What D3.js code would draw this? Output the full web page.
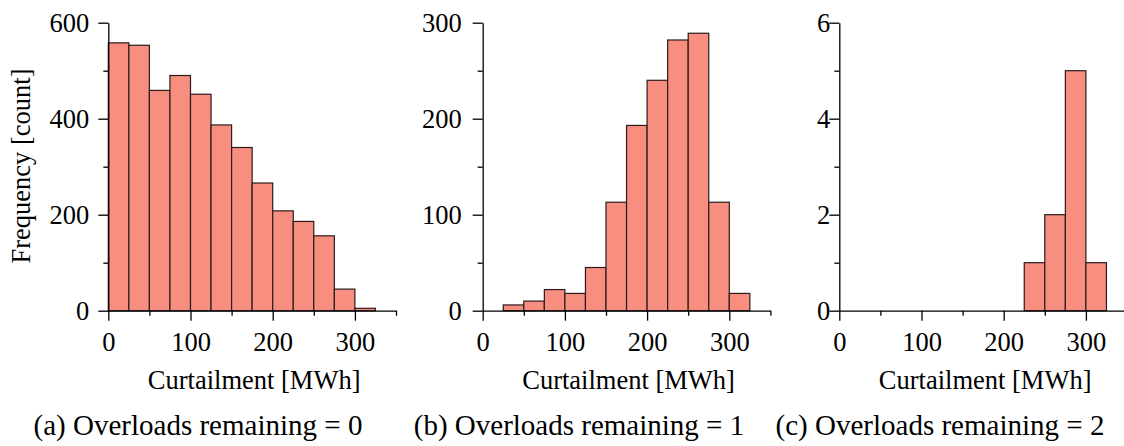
<!DOCTYPE html>
<html lang="en">
<head>
    <meta charset="UTF-8">
    <title>Curtailment histograms</title>
    <script src="https://d3js.org/d3.v7.min.js"></script>
    <style>
        body { margin: 0; background: #fff; }
        svg text { font-family: "Liberation Serif", "DejaVu Serif", serif; fill: #000; }
        .axis path, .axis line { stroke: #000; stroke-width: 1.3px; }
        .bar { fill: #f78e7f; stroke: #2a1c1c; stroke-width: 1.2px; }
    </style>
</head>
<body>
    <svg id="chart" width="1124" height="446"></svg>
    <script>
        // histogram bins (left edges, 25 MWh wide)
        const binEdges = [0, 25, 50, 75, 100, 125, 150, 175, 200, 225, 250, 275, 300];
        const binWidth = 25;

        // counts per bin
        const countsA = [558, 553, 459, 490, 451, 387, 340, 266, 208, 186, 156, 45, 5];
        const countsB = [0, 6, 10, 22, 18, 45, 113, 193, 240, 282, 289, 113, 18];
        const countsC = [0, 0, 0, 0, 0, 0, 0, 0, 0, 1, 2, 5, 1];

        const xTicks = [0, 50, 100, 150, 200, 250, 300, 350];
        const xLabels = [0, 100, 200, 300];
        const yTicksA = [0, 100, 200, 300, 400, 500, 600];
        const yTicksB = [0, 50, 100, 150, 200, 250, 300];
        const yTicksC = [0, 1, 2, 3, 4, 5, 6];

        const captions = ["(a) Overloads remaining = 0", "(b) Overloads remaining = 1", "(c) Overloads remaining = 2"];

        const panels = [
            { counts: countsA, yTicks: yTicksA, yLabelEvery: 200, yMax: 600, left: 108.3, labelGap: 19, capX: 198 },
            { counts: countsB, yTicks: yTicksB, yLabelEvery: 100, yMax: 300, left: 482.7, labelGap: 21, capX: 579 },
            { counts: countsC, yTicks: yTicksC, yLabelEvery: 2, yMax: 6, left: 839.3, labelGap: 9, capX: 940 }
        ];

        const svg = d3.select("#chart");
        const plotTop = 22.7, plotBottom = 310.7, plotW = 287.7;
        const fs = 26.5;

        panels.forEach((p, i) => {
            const x = d3.scaleLinear().domain([0, 350]).range([p.left, p.left + plotW]);
            const y = d3.scaleLinear().domain([0, p.yMax]).range([plotBottom, plotTop]);
            const g = svg.append("g");

            g.selectAll("rect")
                .data(p.counts.map((c, j) => ({ x0: binEdges[j], c: c })).filter(d => d.c > 0))
                .enter()
                .append("rect")
                .attr("class", "bar")
                .attr("x", d => x(d.x0))
                .attr("width", d => x(d.x0 + binWidth) - x(d.x0))
                .attr("y", d => y(d.c))
                .attr("height", d => y(0) - y(d.c));

            // x axis
            const xa = g.append("g")
                .attr("class", "axis")
                .attr("transform", `translate(0,${plotBottom})`)
                .call(d3.axisBottom(x).tickValues(xTicks).tickSize(10).tickSizeOuter(0)
                    .tickFormat(d => xLabels.includes(d) ? d : ""));
            xa.selectAll(".tick line").attr("y2", d => xLabels.includes(d) ? 10 : 5);
            xa.selectAll(".tick text").attr("y", 40).attr("dy", null).style("font-size", fs + "px");

            // y axis
            const ya = g.append("g")
                .attr("class", "axis")
                .attr("transform", `translate(${p.left},0)`)
                .call(d3.axisLeft(y).tickValues(p.yTicks).tickSize(10).tickSizeOuter(0)
                    .tickFormat(d => d % p.yLabelEvery === 0 ? d : ""));
            ya.selectAll(".tick line").attr("x2", d => d % p.yLabelEvery === 0 ? -10 : -5);
            ya.selectAll(".tick text").attr("x", -p.labelGap).style("font-size", fs + "px");
            g.selectAll(".axis").attr("font-family", null).attr("font-size", null);

            // axis title
            g.append("text")
                .attr("x", (p.left + p.left + plotW) / 2 + 2)
                .attr("y", 388.5)
                .attr("text-anchor", "middle")
                .style("font-size", fs + "px")
                .text("Curtailment [MWh]");

            // caption
            svg.append("text")
                .attr("x", p.capX)
                .attr("y", 435)
                .attr("text-anchor", "middle")
                .style("font-size", "29px")
                .text(captions[i]);
        });

        svg.append("text")
            .attr("transform", "translate(30,166) rotate(-90)")
            .attr("text-anchor", "middle")
            .style("font-size", fs + "px")
            .text("Frequency [count]");
    </script>
</body>
</html>
